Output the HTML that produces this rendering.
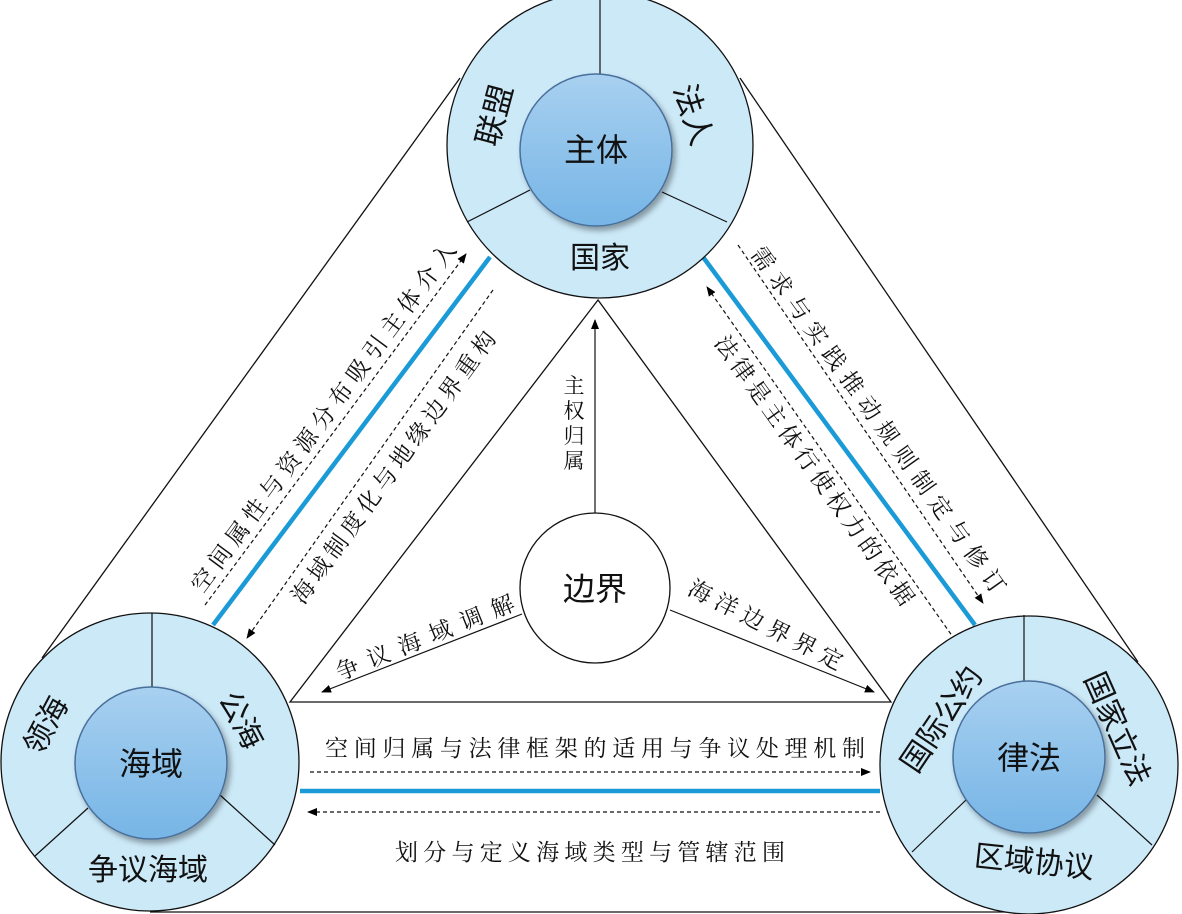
<!DOCTYPE html>
<html><head><meta charset="utf-8"><style>
html,body{margin:0;padding:0;background:#fff;}
svg{display:block;}
.s{font-family:"Liberation Sans","Noto Sans CJK SC",sans-serif;fill:#111;}
.k{font-family:"Liberation Serif","Noto Serif CJK SC",serif;fill:#111;}
</style></head><body>
<svg width="1182" height="914" viewBox="0 0 1182 914" xmlns="http://www.w3.org/2000/svg">
<defs>
<linearGradient id="g" x1="0" y1="0" x2="0" y2="1"><stop offset="0" stop-color="#a8d0f0"/><stop offset="1" stop-color="#76b5e6"/></linearGradient>
<filter id="sh" x="-20%" y="-20%" width="150%" height="150%"><feDropShadow dx="3" dy="4" stdDeviation="3" flood-color="#000" flood-opacity="0.35"/></filter>
<marker id="a" markerWidth="10" markerHeight="10" refX="9" refY="5" orient="auto" markerUnits="userSpaceOnUse"><path d="M0,1 L10,5 L0,9 Z" fill="#000"/></marker>
</defs>
<g stroke="#111" stroke-width="1.3" fill="none">
<line x1="460" y1="78" x2="42" y2="658"/>
<line x1="740" y1="78" x2="1138" y2="662"/>
<line x1="150" y1="912" x2="1030" y2="912"/>
<polygon points="598,300 290,702 891,702"/>
</g>
<g stroke="#1a9ad6" stroke-width="4.5">
<line x1="490" y1="257" x2="213" y2="625"/>
<line x1="703" y1="257" x2="975" y2="625"/>
<line x1="300" y1="791" x2="880" y2="791"/>
</g>
<g stroke="#111" stroke-width="1.2" stroke-dasharray="4,3" fill="none">
<line x1="205" y1="605" x2="466" y2="254" marker-end="url(#a)"/>
<line x1="493" y1="290" x2="247" y2="638" marker-end="url(#a)"/>
<line x1="738" y1="245" x2="983" y2="603" marker-end="url(#a)"/>
<line x1="955" y1="640" x2="707" y2="287" marker-end="url(#a)"/>
<line x1="310" y1="772" x2="870" y2="772" marker-end="url(#a)"/>
<line x1="880" y1="812" x2="308" y2="812" marker-end="url(#a)"/>
</g>
<g stroke="#111" stroke-width="1.2" fill="none">
<line x1="595" y1="513" x2="595" y2="320" marker-end="url(#a)"/>
<line x1="522" y1="614" x2="322" y2="692" marker-end="url(#a)"/>
<line x1="670" y1="610" x2="874" y2="692" marker-end="url(#a)"/>
</g>
<circle cx="595" cy="588" r="75" fill="#fff" stroke="#111" stroke-width="1.3"/>
<text class="s" x="595" y="600" font-size="32" text-anchor="middle">边界</text>
<!-- top circle -->
<circle cx="600" cy="145" r="153" fill="#cce9f8" stroke="#111" stroke-width="1.3"/>
<g stroke="#111" stroke-width="1.2"><line x1="600" y1="-8" x2="600" y2="75"/><line x1="467" y1="222" x2="530" y2="190"/><line x1="662" y1="192" x2="727" y2="222"/></g>
<circle cx="596" cy="150" r="76" fill="url(#g)" stroke="#4a6f9a" stroke-width="1.5" filter="url(#sh)"/>
<text class="s" x="596" y="161" font-size="32" text-anchor="middle">主体</text>
<text class="s" x="600" y="268" font-size="30" text-anchor="middle">国家</text>
<text class="s" font-size="31" text-anchor="middle" transform="translate(505,118) rotate(-75)">联盟</text>
<text class="s" font-size="31" text-anchor="middle" transform="translate(683,118) rotate(72)">法人</text>
<!-- bottom-left -->
<circle cx="150" cy="762" r="149" fill="#cce9f8" stroke="#111" stroke-width="1.3"/>
<g stroke="#111" stroke-width="1.2"><line x1="152" y1="613" x2="152" y2="688"/><line x1="35" y1="856" x2="88" y2="808"/><line x1="220" y1="795" x2="275" y2="845"/></g>
<circle cx="151" cy="763" r="76" fill="url(#g)" stroke="#4a6f9a" stroke-width="1.5" filter="url(#sh)"/>
<text class="s" x="151" y="775" font-size="32" text-anchor="middle">海域</text>
<text class="s" font-size="30" text-anchor="middle" transform="translate(55,730) rotate(-62)">领海</text>
<text class="s" font-size="30" text-anchor="middle" transform="translate(232,725) rotate(62)">公海</text>
<text class="s" x="148" y="880" font-size="30" text-anchor="middle">争议海域</text>
<!-- bottom-right -->
<circle cx="1029" cy="765" r="149" fill="#cce9f8" stroke="#111" stroke-width="1.3"/>
<g stroke="#111" stroke-width="1.2"><line x1="1024" y1="615" x2="1024" y2="682"/><line x1="912" y1="852" x2="966" y2="800"/><line x1="1097" y1="795" x2="1152" y2="845"/></g>
<circle cx="1029" cy="757" r="76" fill="url(#g)" stroke="#4a6f9a" stroke-width="1.5" filter="url(#sh)"/>
<text class="s" x="1029" y="769" font-size="32" text-anchor="middle">律法</text>
<text class="s" font-size="30" text-anchor="middle" transform="translate(950,725) rotate(-56)">国际公约</text>
<text class="s" font-size="30" text-anchor="middle" transform="translate(1108,733) rotate(66)">国家立法</text>
<text class="s" font-size="30" text-anchor="middle" transform="translate(1033,872) rotate(6)">区域协议</text>
<!-- labels -->
<g class="k" font-size="23">
<text text-anchor="middle" textLength="428" lengthAdjust="spacing" transform="translate(330,422) rotate(-53.5)">空间属性与资源分布吸引主体介入</text>
<text text-anchor="middle" textLength="330" lengthAdjust="spacing" transform="translate(400,472) rotate(-54)">海域制度化与地缘边界重构</text>
<text text-anchor="middle" textLength="420" lengthAdjust="spacing" transform="translate(872,425) rotate(54.5)">需求与实践推动规则制定与修订</text>
<text text-anchor="middle" textLength="325" lengthAdjust="spacing" transform="translate(808,475) rotate(54.5)">法律是主体行使权力的依据</text>
<text text-anchor="middle" textLength="190" lengthAdjust="spacing" transform="translate(428,645) rotate(-22)">争议海域调解</text>
<text text-anchor="middle" textLength="170" lengthAdjust="spacing" transform="translate(762,632) rotate(27)">海洋边界界定</text>
<text x="595" y="756" text-anchor="middle" textLength="540" lengthAdjust="spacing">空间归属与法律框架的适用与争议处理机制</text>
<text x="590" y="860" text-anchor="middle" textLength="390" lengthAdjust="spacing">划分与定义海域类型与管辖范围</text>
<text x="574" y="393" text-anchor="middle" font-size="21">主</text>
<text x="574" y="418" text-anchor="middle" font-size="21">权</text>
<text x="574" y="443" text-anchor="middle" font-size="21">归</text>
<text x="574" y="468" text-anchor="middle" font-size="21">属</text>
</g>
</svg>
</body></html>
